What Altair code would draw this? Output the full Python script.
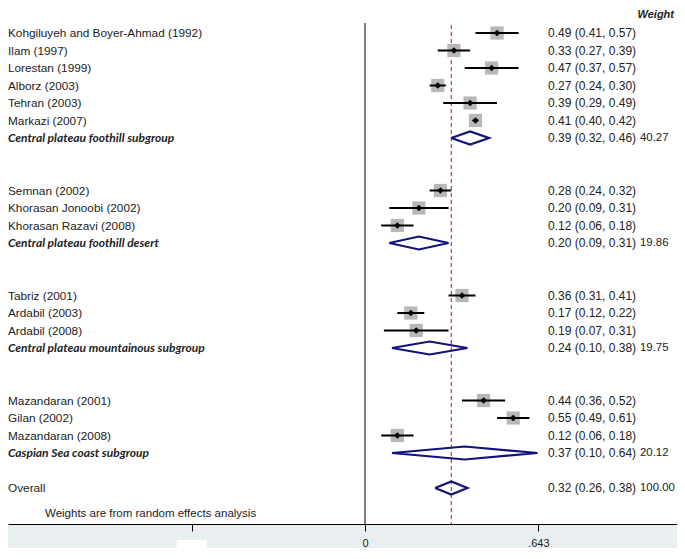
import altair as alt
import pandas as pd

studies = ["Kohgiluyeh and Boyer-Ahmad (1992)", "Ilam (1997)", "Lorestan (1999)", "Alborz (2003)",
           "Tehran (2003)", "Markazi (2007)", "Semnan (2002)", "Khorasan Jonoobi (2002)",
           "Khorasan Razavi (2008)", "Tabriz (2001)", "Ardabil (2003)", "Ardabil (2008)",
           "Mazandaran (2001)", "Gilan (2002)", "Mazandaran (2008)"]
study_group = [0, 0, 0, 0, 0, 0, 1, 1, 1, 2, 2, 2, 3, 3, 3]
study_es = [0.49, 0.33, 0.47, 0.27, 0.39, 0.41, 0.28, 0.20, 0.12, 0.36, 0.17, 0.19, 0.44, 0.55, 0.12]
study_lo = [0.41, 0.27, 0.37, 0.24, 0.29, 0.40, 0.24, 0.09, 0.06, 0.31, 0.12, 0.07, 0.36, 0.49, 0.06]
study_hi = [0.57, 0.39, 0.57, 0.30, 0.49, 0.42, 0.32, 0.31, 0.18, 0.41, 0.22, 0.31, 0.52, 0.61, 0.18]

groups = ["Central plateau foothill subgroup", "Central plateau foothill desert",
          "Central plateau mountainous subgroup", "Caspian Sea coast subgroup"]
group_es = [0.39, 0.20, 0.24, 0.37]
group_lo = [0.32, 0.09, 0.10, 0.10]
group_hi = [0.46, 0.31, 0.38, 0.64]
group_w = [40.27, 19.86, 19.75, 20.12]

overall_label = "Overall"
overall_es, overall_lo, overall_hi, overall_w = 0.32, 0.26, 0.38, 100.00

axis_ticks = [-0.643, 0, 0.643]
note = "Weights are from random effects analysis"

# ---- build row layout (header row, studies, subtotal, blank per group) ----
study_rows = []
summary_rows = []
r = -1
for g in range(len(groups)):
    r += 1  # header row (unlabelled)
    for i, sg in enumerate(study_group):
        if sg == g:
            study_rows.append(dict(label=studies[i], row=r, es=study_es[i], lo=study_lo[i], hi=study_hi[i],
                                   txt=f"{study_es[i]:.2f} ({study_lo[i]:.2f}, {study_hi[i]:.2f})"))
            r += 1
    summary_rows.append(dict(label=groups[g], row=r, es=group_es[g], lo=group_lo[g], hi=group_hi[g],
                             txt=f"{group_es[g]:.2f} ({group_lo[g]:.2f}, {group_hi[g]:.2f})",
                             w=f"{group_w[g]:.2f}", kind="sub"))
    r += 1
    r += 1  # blank
overall_row = r
summary_rows.append(dict(label=overall_label, row=overall_row, es=overall_es, lo=overall_lo, hi=overall_hi,
                         txt=f"{overall_es:.2f} ({overall_lo:.2f}, {overall_hi:.2f})",
                         w=f"{overall_w:.2f}", kind="overall"))

sdf = pd.DataFrame(study_rows)
gdf = pd.DataFrame(summary_rows)

H_DIAM = 0.37
dpts = []
for k, s in enumerate(summary_rows):
    verts = [(s["lo"], s["row"]), (s["es"], s["row"] - H_DIAM), (s["hi"], s["row"]),
             (s["es"], s["row"] + H_DIAM), (s["lo"], s["row"])]
    for j, (vx, vy) in enumerate(verts):
        dpts.append(dict(d=k, o=j, x=vx, row=vy))
ddf = pd.DataFrame(dpts)

W, H = 669, 516
xs = alt.Scale(domain=[-1.3247, 1.1577], nice=False, zero=False)
ys = alt.Scale(domain=[-1.4286, 28.057], reverse=True, nice=False, zero=False)
xa = alt.Axis(values=axis_ticks, title=None, grid=False, tickSize=7, domainColor="black",
              tickColor="black", labelColor="#222222", labelFont="Liberation Sans", labelFontSize=11,
              labelPadding=6, zindex=1, labelFlush=False,
              labelExpr="datum.value == 0 ? '0' : (datum.value > 0 ? '.643' : '')")


def X(field):
    return alt.X(field, type="quantitative", scale=xs, axis=xa)


Y = alt.Y("row:Q", scale=ys, axis=None)

one = pd.DataFrame({"a": [0]})
FONT = "Liberation Sans"
TXT = "#222222"

band = alt.Chart(one).mark_rect(color="#e9eff1").encode(
    x=alt.value(0), x2=alt.value(W), y=alt.value(H), y2=alt.value(H + 40))

blank_box = alt.Chart(one).mark_rect(color="white", width=30, height=10).encode(
    x=alt.datum(axis_ticks[0], type="quantitative", scale=xs, axis=xa), y=alt.value(H + 21))

zero_line = alt.Chart(one).mark_rule(color="black", strokeWidth=1).encode(
    x=alt.datum(0, type="quantitative", scale=xs, axis=xa), y=alt.value(15), y2=alt.value(H))

dash_line = alt.Chart(one).mark_rule(color="#9b1b30", strokeWidth=1, strokeDash=[4, 3]).encode(
    x=alt.datum(overall_es, type="quantitative", scale=xs, axis=xa), y=alt.value(17), y2=alt.value(H))

squares = alt.Chart(sdf).mark_square(size=175, color="#b8b8b8", opacity=1).encode(x=X("es"), y=Y)
ci = alt.Chart(sdf).mark_rule(color="black", strokeWidth=2).encode(x=X("lo"), x2="hi", y=Y)
pts = alt.Chart(sdf).mark_point(shape="diamond", filled=True, size=45, color="black", opacity=1).encode(
    x=X("es"), y=Y)

diamonds = alt.Chart(ddf).mark_line(color="#121278", strokeWidth=2.2).encode(
    x=X("x"), y=Y, detail="d:N", order="o:Q")

lab_study = alt.Chart(sdf).mark_text(align="left", baseline="middle", font=FONT, fontSize=11.8, color=TXT).encode(
    x=alt.value(0), y=Y, text="label")
lab_sub = alt.Chart(gdf[gdf.kind == "sub"]).mark_text(
    align="left", baseline="middle", font="Lato", fontSize=12, fontWeight="bold", fontStyle="italic",
    color=TXT).encode(x=alt.value(0), y=Y, text="label")
lab_over = alt.Chart(gdf[gdf.kind == "overall"]).mark_text(
    align="left", baseline="middle", font=FONT, fontSize=11.8, color=TXT).encode(x=alt.value(0), y=Y, text="label")

est_study = alt.Chart(sdf).mark_text(align="left", baseline="middle", font=FONT, fontSize=12, color=TXT).encode(
    x=alt.value(540), y=Y, text="txt")
est_sum = alt.Chart(gdf).mark_text(align="left", baseline="middle", font=FONT, fontSize=12, color=TXT).encode(
    x=alt.value(540), y=Y, text="txt")
w_sum = alt.Chart(gdf).mark_text(align="left", baseline="middle", font=FONT, fontSize=11.4, color=TXT).encode(
    x=alt.value(632), y=Y, text="w")

header = alt.Chart(one).mark_text(align="right", baseline="middle", font=FONT, fontSize=11,
                                  fontWeight="bold", fontStyle="italic", color=TXT, text="Weight").encode(
    x=alt.value(W - 3), y=alt.value(7))

note_t = alt.Chart(one).mark_text(align="left", baseline="middle", font=FONT, fontSize=11.5,
                                  color=TXT, text=note).encode(x=alt.value(37), y=alt.value(H - 10))

chart = alt.layer(
    band, blank_box, zero_line, dash_line, squares, ci, pts, diamonds,
    lab_study, lab_sub, lab_over, est_study, est_sum, w_sum, header, note_t
).properties(
    width=W, height=H,
    padding={"left": 0, "top": 0, "right": 0, "bottom": 24},
    autosize=alt.AutoSizeParams(type="none"),
).configure_view(stroke=None)

chart.save("out.html", embed_options={"renderer": "svg", "actions": False})
